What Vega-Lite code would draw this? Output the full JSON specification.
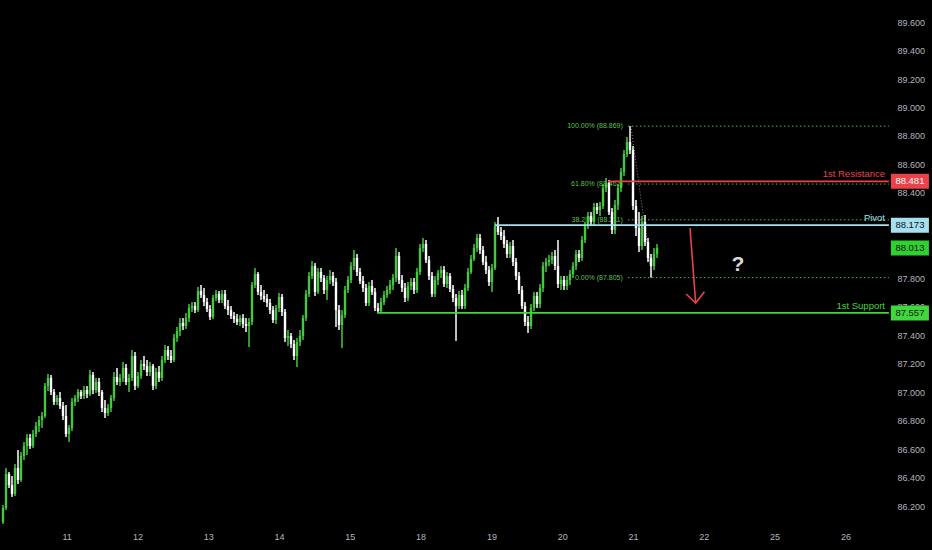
{
  "$schema": "https://vega.github.io/schema/vega-lite/v6.json",
  "width": 886,
  "height": 525,
  "autosize": {"type": "none"},
  "padding": {"left": 0, "top": 0, "right": 46, "bottom": 25},
  "background": "#000000",
  "config": {
    "view": {"stroke": null},
    "font": "Liberation Sans",
    "axis": {"grid": false, "domain": false, "ticks": false, "labelColor": "#b2b5be", "labelFontSize": 9, "labelOverlap": false}
  },
  "datasets": {
    "candles": [
      {"i":1,"open":86.088,"high":86.207,"low":86.074,"close":86.186},
      {"i":2,"open":86.186,"high":86.467,"low":86.172,"close":86.425},
      {"i":3,"open":86.425,"high":86.439,"low":86.327,"close":86.348},
      {"i":4,"open":86.348,"high":86.411,"low":86.264,"close":86.285},
      {"i":5,"open":86.285,"high":86.495,"low":86.271,"close":86.467},
      {"i":6,"open":86.467,"high":86.594,"low":86.355,"close":86.383},
      {"i":7,"open":86.383,"high":86.580,"low":86.369,"close":86.552},
      {"i":8,"open":86.552,"high":86.650,"low":86.524,"close":86.622},
      {"i":9,"open":86.622,"high":86.706,"low":86.559,"close":86.678},
      {"i":10,"open":86.678,"high":86.706,"low":86.601,"close":86.622},
      {"i":11,"open":86.622,"high":86.734,"low":86.608,"close":86.706},
      {"i":12,"open":86.706,"high":86.791,"low":86.685,"close":86.762},
      {"i":13,"open":86.762,"high":86.833,"low":86.720,"close":86.805},
      {"i":14,"open":86.805,"high":86.861,"low":86.748,"close":86.833},
      {"i":15,"open":86.833,"high":87.064,"low":86.819,"close":87.043},
      {"i":16,"open":87.043,"high":87.128,"low":87.008,"close":87.100},
      {"i":17,"open":87.100,"high":87.121,"low":86.980,"close":87.001},
      {"i":18,"open":87.001,"high":87.022,"low":86.910,"close":86.931},
      {"i":19,"open":86.931,"high":86.980,"low":86.910,"close":86.959},
      {"i":20,"open":86.959,"high":87.001,"low":86.882,"close":86.903},
      {"i":21,"open":86.903,"high":86.931,"low":86.805,"close":86.833},
      {"i":22,"open":86.833,"high":86.910,"low":86.685,"close":86.706},
      {"i":23,"open":86.706,"high":86.769,"low":86.650,"close":86.748},
      {"i":24,"open":86.748,"high":86.959,"low":86.727,"close":86.931},
      {"i":25,"open":86.931,"high":86.980,"low":86.903,"close":86.959},
      {"i":26,"open":86.959,"high":87.022,"low":86.931,"close":87.001},
      {"i":27,"open":87.001,"high":87.015,"low":86.952,"close":86.973},
      {"i":28,"open":86.973,"high":87.043,"low":86.952,"close":87.015},
      {"i":29,"open":87.015,"high":87.043,"low":86.959,"close":86.987},
      {"i":30,"open":86.987,"high":87.156,"low":86.973,"close":87.121},
      {"i":31,"open":87.121,"high":87.142,"low":86.987,"close":87.015},
      {"i":32,"open":87.015,"high":87.100,"low":86.994,"close":87.072},
      {"i":33,"open":87.072,"high":87.100,"low":86.973,"close":87.001},
      {"i":34,"open":87.001,"high":87.015,"low":86.861,"close":86.889},
      {"i":35,"open":86.889,"high":86.945,"low":86.819,"close":86.854},
      {"i":36,"open":86.854,"high":86.917,"low":86.833,"close":86.889},
      {"i":37,"open":86.889,"high":86.980,"low":86.861,"close":86.959},
      {"i":38,"open":86.959,"high":87.142,"low":86.938,"close":87.107},
      {"i":39,"open":87.107,"high":87.170,"low":87.050,"close":87.072},
      {"i":40,"open":87.072,"high":87.128,"low":87.043,"close":87.100},
      {"i":41,"open":87.100,"high":87.212,"low":87.072,"close":87.170},
      {"i":42,"open":87.170,"high":87.198,"low":87.050,"close":87.072},
      {"i":43,"open":87.072,"high":87.128,"low":87.001,"close":87.100},
      {"i":44,"open":87.100,"high":87.296,"low":87.079,"close":87.254},
      {"i":45,"open":87.254,"high":87.282,"low":87.015,"close":87.043},
      {"i":46,"open":87.043,"high":87.142,"low":87.029,"close":87.114},
      {"i":47,"open":87.114,"high":87.226,"low":87.093,"close":87.198},
      {"i":48,"open":87.198,"high":87.254,"low":87.156,"close":87.184},
      {"i":49,"open":87.184,"high":87.226,"low":87.114,"close":87.142},
      {"i":50,"open":87.142,"high":87.212,"low":87.114,"close":87.184},
      {"i":51,"open":87.184,"high":87.198,"low":87.015,"close":87.043},
      {"i":52,"open":87.043,"high":87.170,"low":87.022,"close":87.142},
      {"i":53,"open":87.142,"high":87.184,"low":87.072,"close":87.100},
      {"i":54,"open":87.100,"high":87.254,"low":87.079,"close":87.226},
      {"i":55,"open":87.226,"high":87.331,"low":87.205,"close":87.296},
      {"i":56,"open":87.296,"high":87.324,"low":87.226,"close":87.254},
      {"i":57,"open":87.254,"high":87.296,"low":87.205,"close":87.226},
      {"i":58,"open":87.226,"high":87.409,"low":87.212,"close":87.381},
      {"i":59,"open":87.381,"high":87.458,"low":87.353,"close":87.430},
      {"i":60,"open":87.430,"high":87.521,"low":87.395,"close":87.486},
      {"i":61,"open":87.486,"high":87.521,"low":87.437,"close":87.465},
      {"i":62,"open":87.465,"high":87.556,"low":87.444,"close":87.521},
      {"i":63,"open":87.521,"high":87.619,"low":87.493,"close":87.591},
      {"i":64,"open":87.591,"high":87.633,"low":87.563,"close":87.605},
      {"i":65,"open":87.605,"high":87.633,"low":87.556,"close":87.577},
      {"i":66,"open":87.577,"high":87.739,"low":87.563,"close":87.711},
      {"i":67,"open":87.711,"high":87.753,"low":87.662,"close":87.683},
      {"i":68,"open":87.683,"high":87.732,"low":87.605,"close":87.633},
      {"i":69,"open":87.633,"high":87.662,"low":87.563,"close":87.584},
      {"i":70,"open":87.584,"high":87.612,"low":87.507,"close":87.528},
      {"i":71,"open":87.528,"high":87.683,"low":87.514,"close":87.662},
      {"i":72,"open":87.662,"high":87.718,"low":87.640,"close":87.690},
      {"i":73,"open":87.690,"high":87.711,"low":87.626,"close":87.648},
      {"i":74,"open":87.648,"high":87.718,"low":87.626,"close":87.690},
      {"i":75,"open":87.690,"high":87.718,"low":87.584,"close":87.605},
      {"i":76,"open":87.605,"high":87.648,"low":87.542,"close":87.577},
      {"i":77,"open":87.577,"high":87.605,"low":87.514,"close":87.535},
      {"i":78,"open":87.535,"high":87.563,"low":87.486,"close":87.514},
      {"i":79,"open":87.514,"high":87.549,"low":87.472,"close":87.493},
      {"i":80,"open":87.493,"high":87.542,"low":87.465,"close":87.521},
      {"i":81,"open":87.521,"high":87.549,"low":87.451,"close":87.479},
      {"i":82,"open":87.479,"high":87.521,"low":87.423,"close":87.465},
      {"i":83,"open":87.465,"high":87.521,"low":87.317,"close":87.493},
      {"i":84,"open":87.493,"high":87.774,"low":87.472,"close":87.753},
      {"i":85,"open":87.753,"high":87.872,"low":87.732,"close":87.830},
      {"i":86,"open":87.830,"high":87.844,"low":87.683,"close":87.704},
      {"i":87,"open":87.704,"high":87.753,"low":87.648,"close":87.676},
      {"i":88,"open":87.676,"high":87.718,"low":87.633,"close":87.655},
      {"i":89,"open":87.655,"high":87.690,"low":87.598,"close":87.626},
      {"i":90,"open":87.626,"high":87.655,"low":87.549,"close":87.577},
      {"i":91,"open":87.577,"high":87.605,"low":87.486,"close":87.507},
      {"i":92,"open":87.507,"high":87.612,"low":87.479,"close":87.591},
      {"i":93,"open":87.591,"high":87.697,"low":87.563,"close":87.669},
      {"i":94,"open":87.669,"high":87.690,"low":87.535,"close":87.563},
      {"i":95,"open":87.563,"high":87.584,"low":87.353,"close":87.381},
      {"i":96,"open":87.381,"high":87.437,"low":87.324,"close":87.395},
      {"i":97,"open":87.395,"high":87.416,"low":87.310,"close":87.339},
      {"i":98,"open":87.339,"high":87.367,"low":87.226,"close":87.254},
      {"i":99,"open":87.254,"high":87.381,"low":87.177,"close":87.353},
      {"i":100,"open":87.353,"high":87.437,"low":87.324,"close":87.395},
      {"i":101,"open":87.395,"high":87.542,"low":87.367,"close":87.521},
      {"i":102,"open":87.521,"high":87.718,"low":87.500,"close":87.690},
      {"i":103,"open":87.690,"high":87.844,"low":87.669,"close":87.816},
      {"i":104,"open":87.816,"high":87.921,"low":87.795,"close":87.886},
      {"i":105,"open":87.886,"high":87.907,"low":87.676,"close":87.704},
      {"i":106,"open":87.704,"high":87.872,"low":87.690,"close":87.844},
      {"i":107,"open":87.844,"high":87.872,"low":87.774,"close":87.802},
      {"i":108,"open":87.802,"high":87.823,"low":87.690,"close":87.718},
      {"i":109,"open":87.718,"high":87.816,"low":87.648,"close":87.788},
      {"i":110,"open":87.788,"high":87.858,"low":87.760,"close":87.816},
      {"i":111,"open":87.816,"high":87.844,"low":87.746,"close":87.774},
      {"i":112,"open":87.774,"high":87.802,"low":87.458,"close":87.577},
      {"i":113,"open":87.577,"high":87.612,"low":87.437,"close":87.472},
      {"i":114,"open":87.472,"high":87.577,"low":87.310,"close":87.542},
      {"i":115,"open":87.542,"high":87.746,"low":87.521,"close":87.718},
      {"i":116,"open":87.718,"high":87.816,"low":87.697,"close":87.788},
      {"i":117,"open":87.788,"high":87.914,"low":87.767,"close":87.886},
      {"i":118,"open":87.886,"high":87.999,"low":87.858,"close":87.943},
      {"i":119,"open":87.943,"high":87.971,"low":87.816,"close":87.844},
      {"i":120,"open":87.844,"high":87.872,"low":87.760,"close":87.781},
      {"i":121,"open":87.781,"high":87.816,"low":87.704,"close":87.732},
      {"i":122,"open":87.732,"high":87.760,"low":87.605,"close":87.626},
      {"i":123,"open":87.626,"high":87.774,"low":87.605,"close":87.746},
      {"i":124,"open":87.746,"high":87.788,"low":87.683,"close":87.704},
      {"i":125,"open":87.704,"high":87.732,"low":87.570,"close":87.591},
      {"i":126,"open":87.591,"high":87.626,"low":87.556,"close":87.570},
      {"i":127,"open":87.570,"high":87.662,"low":87.556,"close":87.633},
      {"i":128,"open":87.633,"high":87.711,"low":87.612,"close":87.683},
      {"i":129,"open":87.683,"high":87.746,"low":87.662,"close":87.718},
      {"i":130,"open":87.718,"high":87.788,"low":87.690,"close":87.753},
      {"i":131,"open":87.753,"high":87.830,"low":87.718,"close":87.802},
      {"i":132,"open":87.802,"high":88.013,"low":87.774,"close":87.957},
      {"i":133,"open":87.957,"high":87.985,"low":87.760,"close":87.788},
      {"i":134,"open":87.788,"high":87.823,"low":87.704,"close":87.732},
      {"i":135,"open":87.732,"high":87.767,"low":87.633,"close":87.662},
      {"i":136,"open":87.662,"high":87.774,"low":87.640,"close":87.746},
      {"i":137,"open":87.746,"high":87.802,"low":87.718,"close":87.774},
      {"i":138,"open":87.774,"high":87.802,"low":87.690,"close":87.718},
      {"i":139,"open":87.718,"high":87.872,"low":87.697,"close":87.844},
      {"i":140,"open":87.844,"high":88.041,"low":87.823,"close":88.013},
      {"i":141,"open":88.013,"high":88.083,"low":87.985,"close":88.041},
      {"i":142,"open":88.041,"high":88.069,"low":87.907,"close":87.929},
      {"i":143,"open":87.929,"high":87.957,"low":87.788,"close":87.816},
      {"i":144,"open":87.816,"high":87.844,"low":87.669,"close":87.690},
      {"i":145,"open":87.690,"high":87.816,"low":87.669,"close":87.788},
      {"i":146,"open":87.788,"high":87.858,"low":87.753,"close":87.837},
      {"i":147,"open":87.837,"high":87.886,"low":87.802,"close":87.858},
      {"i":148,"open":87.858,"high":87.886,"low":87.739,"close":87.760},
      {"i":149,"open":87.760,"high":87.844,"low":87.732,"close":87.816},
      {"i":150,"open":87.816,"high":87.837,"low":87.704,"close":87.725},
      {"i":151,"open":87.725,"high":87.753,"low":87.633,"close":87.662},
      {"i":152,"open":87.662,"high":87.690,"low":87.360,"close":87.605},
      {"i":153,"open":87.605,"high":87.711,"low":87.584,"close":87.683},
      {"i":154,"open":87.683,"high":87.718,"low":87.584,"close":87.605},
      {"i":155,"open":87.605,"high":87.760,"low":87.584,"close":87.732},
      {"i":156,"open":87.732,"high":87.872,"low":87.711,"close":87.844},
      {"i":157,"open":87.844,"high":87.964,"low":87.830,"close":87.936},
      {"i":158,"open":87.936,"high":88.041,"low":87.921,"close":88.013},
      {"i":159,"open":88.013,"high":88.111,"low":87.985,"close":88.083},
      {"i":160,"open":88.083,"high":88.111,"low":87.971,"close":87.999},
      {"i":161,"open":87.999,"high":88.027,"low":87.893,"close":87.914},
      {"i":162,"open":87.914,"high":87.957,"low":87.830,"close":87.858},
      {"i":163,"open":87.858,"high":87.886,"low":87.746,"close":87.774},
      {"i":164,"open":87.774,"high":87.900,"low":87.704,"close":87.872},
      {"i":165,"open":87.872,"high":88.195,"low":87.858,"close":88.167},
      {"i":166,"open":88.167,"high":88.231,"low":88.104,"close":88.125},
      {"i":167,"open":88.125,"high":88.160,"low":88.069,"close":88.097},
      {"i":168,"open":88.097,"high":88.139,"low":88.013,"close":88.041},
      {"i":169,"open":88.041,"high":88.069,"low":87.943,"close":87.971},
      {"i":170,"open":87.971,"high":88.055,"low":87.943,"close":88.027},
      {"i":171,"open":88.027,"high":88.069,"low":87.886,"close":87.914},
      {"i":172,"open":87.914,"high":87.943,"low":87.788,"close":87.816},
      {"i":173,"open":87.816,"high":87.844,"low":87.690,"close":87.718},
      {"i":174,"open":87.718,"high":87.746,"low":87.584,"close":87.605},
      {"i":175,"open":87.605,"high":87.633,"low":87.465,"close":87.493},
      {"i":176,"open":87.493,"high":87.535,"low":87.416,"close":87.465},
      {"i":177,"open":87.465,"high":87.619,"low":87.444,"close":87.591},
      {"i":178,"open":87.591,"high":87.704,"low":87.570,"close":87.676},
      {"i":179,"open":87.676,"high":87.704,"low":87.591,"close":87.619},
      {"i":180,"open":87.619,"high":87.760,"low":87.591,"close":87.732},
      {"i":181,"open":87.732,"high":87.914,"low":87.704,"close":87.886},
      {"i":182,"open":87.886,"high":87.943,"low":87.844,"close":87.914},
      {"i":183,"open":87.914,"high":87.964,"low":87.886,"close":87.929},
      {"i":184,"open":87.929,"high":87.985,"low":87.900,"close":87.957},
      {"i":185,"open":87.957,"high":87.999,"low":87.858,"close":87.886},
      {"i":186,"open":87.886,"high":88.069,"low":87.732,"close":87.760},
      {"i":187,"open":87.760,"high":87.816,"low":87.718,"close":87.788},
      {"i":188,"open":87.788,"high":87.816,"low":87.718,"close":87.746},
      {"i":189,"open":87.746,"high":87.816,"low":87.718,"close":87.788},
      {"i":190,"open":87.788,"high":87.858,"low":87.753,"close":87.830},
      {"i":191,"open":87.830,"high":87.914,"low":87.802,"close":87.886},
      {"i":192,"open":87.886,"high":87.999,"low":87.858,"close":87.971},
      {"i":193,"open":87.971,"high":87.999,"low":87.914,"close":87.943},
      {"i":194,"open":87.943,"high":88.097,"low":87.921,"close":88.069},
      {"i":195,"open":88.069,"high":88.195,"low":88.048,"close":88.167},
      {"i":196,"open":88.167,"high":88.266,"low":88.146,"close":88.238},
      {"i":197,"open":88.238,"high":88.266,"low":88.167,"close":88.195},
      {"i":198,"open":88.195,"high":88.329,"low":88.174,"close":88.301},
      {"i":199,"open":88.301,"high":88.329,"low":88.252,"close":88.280},
      {"i":200,"open":88.280,"high":88.336,"low":88.238,"close":88.308},
      {"i":201,"open":88.308,"high":88.462,"low":88.287,"close":88.434},
      {"i":202,"open":88.434,"high":88.505,"low":88.406,"close":88.469},
      {"i":203,"open":88.469,"high":88.491,"low":88.245,"close":88.266},
      {"i":204,"open":88.266,"high":88.294,"low":88.111,"close":88.139},
      {"i":205,"open":88.139,"high":88.350,"low":88.111,"close":88.315},
      {"i":206,"open":88.315,"high":88.462,"low":88.280,"close":88.434},
      {"i":207,"open":88.434,"high":88.575,"low":88.406,"close":88.547},
      {"i":208,"open":88.547,"high":88.701,"low":88.519,"close":88.673},
      {"i":209,"open":88.673,"high":88.793,"low":88.652,"close":88.757},
      {"i":210,"open":88.757,"high":88.869,"low":88.673,"close":88.701},
      {"i":211,"open":88.701,"high":88.729,"low":88.280,"close":88.308},
      {"i":212,"open":88.308,"high":88.350,"low":88.097,"close":88.153},
      {"i":213,"open":88.153,"high":88.266,"low":87.985,"close":88.027},
      {"i":214,"open":88.027,"high":88.238,"low":87.999,"close":88.195},
      {"i":215,"open":88.195,"high":88.245,"low":88.027,"close":88.055},
      {"i":216,"open":88.055,"high":88.083,"low":87.914,"close":87.943},
      {"i":217,"open":87.943,"high":87.971,"low":87.805,"close":87.886},
      {"i":218,"open":87.886,"high":88.013,"low":87.858,"close":87.971},
      {"i":219,"open":87.971,"high":88.041,"low":87.943,"close":88.013}
    ],
    "fib": [
      {"label": "100.00% (88.869)", "price": 88.869},
      {"label": "61.80% (88.462)", "price": 88.462},
      {"label": "38.20% (88.211)", "price": 88.211},
      {"label": "0.00% (87.805)", "price": 87.805}
    ],
    "fibTrend": [
      {"i": 210.3, "price": 88.869},
      {"i": 217.3, "price": 87.805}
    ],
    "levels": [
      {"name": "1st Resistance", "price": 88.481, "from": 202.7},
      {"name": "Pivot", "price": 88.173, "from": 165},
      {"name": "1st Support", "price": 87.557, "from": 125.7}
    ],
    "tags": [
      {"name": "1st Resistance", "price": 88.481},
      {"name": "Pivot", "price": 88.173},
      {"name": "Last", "price": 88.013},
      {"name": "1st Support", "price": 87.557}
    ],
    "arrow": [
      {"part": "shaft", "i": 230, "price": 88.153},
      {"part": "shaft", "i": 231.9, "price": 87.626},
      {"part": "head", "i": 228.7, "price": 87.69},
      {"part": "head", "i": 231.9, "price": 87.626},
      {"part": "head", "i": 234.8, "price": 87.706}
    ],
    "note": [
      {"label": "?", "i": 246, "price": 87.893}
    ]
  },
  "layer": [
    {
      "data": {"name": "candles"},
      "mark": {"type": "rule", "strokeWidth": 1},
      "encoding": {
        "x": {
          "field": "i", "type": "quantitative", "title": null,
          "scale": {"domain": [0, 295.33], "nice": false, "zero": false, "padding": 0},
          "axis": {
            "values": [22.2, 45.8, 69.4, 93, 116.6, 140.2, 163.8, 187.4, 211, 234.6, 258.2, 281.8],
            "labelExpr": "['11','12','13','14','15','18','19','20','21','22','25','26'][round((datum.value - 22.2) / 23.6)]",
            "labelPadding": 7,
            "tickCount": 40
          }
        },
        "y": {
          "field": "low", "type": "quantitative", "title": null,
          "scale": {"domain": [86.067, 89.755], "nice": false, "zero": false, "padding": 0},
          "axis": {
            "orient": "right",
            "values": [86.2, 86.4, 86.6, 86.8, 87.0, 87.2, 87.4, 87.6, 87.8, 88.0, 88.2, 88.4, 88.6, 88.8, 89.0, 89.2, 89.4, 89.6],
            "format": ".3f",
            "labelPadding": 11,
            "tickCount": 40
          }
        },
        "y2": {"field": "high"},
        "color": {
          "condition": {"test": "datum.close >= datum.open", "value": "#45c83f"},
          "value": "#ffffff"
        }
      }
    },
    {
      "data": {"name": "fib"},
      "mark": {"type": "rule", "color": "#4caf50", "strokeWidth": 1, "strokeDash": [1.5, 2.5]},
      "encoding": {
        "x": {"datum": 209.3, "type": "quantitative", "title": null},
        "x2": {"datum": 296.3},
        "y": {"field": "price", "type": "quantitative", "title": null}
      }
    },
    {
      "data": {"name": "fib"},
      "mark": {"type": "text", "align": "right", "baseline": "middle", "fontSize": 7, "color": "#5cc04c"},
      "encoding": {
        "x": {"datum": 207.6, "type": "quantitative", "title": null},
        "y": {"field": "price", "type": "quantitative", "title": null},
        "text": {"field": "label"}
      }
    },
    {
      "data": {"name": "fibTrend"},
      "mark": {"type": "line", "color": "#8a8a8a", "strokeWidth": 1, "strokeDash": [1, 2]},
      "encoding": {
        "x": {"field": "i", "type": "quantitative", "title": null},
        "y": {"field": "price", "type": "quantitative", "title": null}
      }
    },
    {
      "data": {"name": "candles"},
      "mark": {"type": "rule", "strokeWidth": 1},
      "encoding": {
        "x": {"field": "i", "type": "quantitative", "title": null},
        "y": {"field": "low", "type": "quantitative", "title": null},
        "y2": {"field": "high"},
        "color": {
          "condition": {"test": "datum.close >= datum.open", "value": "#45c83f"},
          "value": "#ffffff"
        }
      }
    },
    {
      "data": {"name": "candles"},
      "mark": {"type": "bar", "width": 2.4, "orient": "vertical"},
      "encoding": {
        "x": {"field": "i", "type": "quantitative", "title": null},
        "y": {"field": "open", "type": "quantitative", "title": null},
        "y2": {"field": "close"},
        "color": {
          "condition": {"test": "datum.close >= datum.open", "value": "#45c83f"},
          "value": "#ffffff"
        }
      }
    },
    {
      "data": {"name": "levels"},
      "mark": {"type": "rule", "strokeWidth": 1.8},
      "encoding": {
        "x": {"field": "from", "type": "quantitative", "title": null},
        "x2": {"datum": 296.3},
        "y": {"field": "price", "type": "quantitative", "title": null},
        "color": {
          "field": "name", "type": "nominal", "legend": null,
          "scale": {"domain": ["1st Resistance", "Pivot", "1st Support", "Last"], "range": ["#ec4149", "#a6e0f0", "#3fd83a", "#2fd12f"]}
        }
      }
    },
    {
      "data": {"name": "levels"},
      "mark": {"type": "text", "align": "right", "baseline": "bottom", "dy": -2, "fontSize": 9.5},
      "encoding": {
        "x": {"datum": 295, "type": "quantitative", "title": null},
        "y": {"field": "price", "type": "quantitative", "title": null},
        "text": {"field": "name"},
        "color": {"field": "name", "type": "nominal", "legend": null}
      }
    },
    {
      "data": {"name": "arrow"},
      "mark": {"type": "line", "color": "#ec4149", "strokeWidth": 1.6},
      "encoding": {
        "x": {"field": "i", "type": "quantitative", "title": null},
        "y": {"field": "price", "type": "quantitative", "title": null},
        "detail": {"field": "part"}
      }
    },
    {
      "data": {"name": "note"},
      "mark": {"type": "text", "fontSize": 21, "fontWeight": "bold", "color": "#d9d9d9", "baseline": "middle"},
      "encoding": {
        "x": {"field": "i", "type": "quantitative", "title": null},
        "y": {"field": "price", "type": "quantitative", "title": null},
        "text": {"field": "label"}
      }
    },
    {
      "data": {"name": "tags"},
      "mark": {"type": "tick", "orient": "horizontal", "size": 38, "thickness": 15, "opacity": 1},
      "encoding": {
        "x": {"datum": 303.3, "type": "quantitative", "title": null},
        "y": {"field": "price", "type": "quantitative", "title": null},
        "color": {"field": "name", "type": "nominal", "legend": null}
      }
    },
    {
      "data": {"name": "tags"},
      "mark": {"type": "text", "align": "center", "baseline": "middle", "fontSize": 9.5},
      "encoding": {
        "x": {"datum": 303.3, "type": "quantitative", "title": null},
        "y": {"field": "price", "type": "quantitative", "title": null},
        "text": {"field": "price", "type": "quantitative", "format": ".3f"},
        "color": {
          "condition": {"test": "datum.name === '1st Resistance'", "value": "#ffffff"},
          "value": "#111111"
        }
      }
    }
  ]
}
